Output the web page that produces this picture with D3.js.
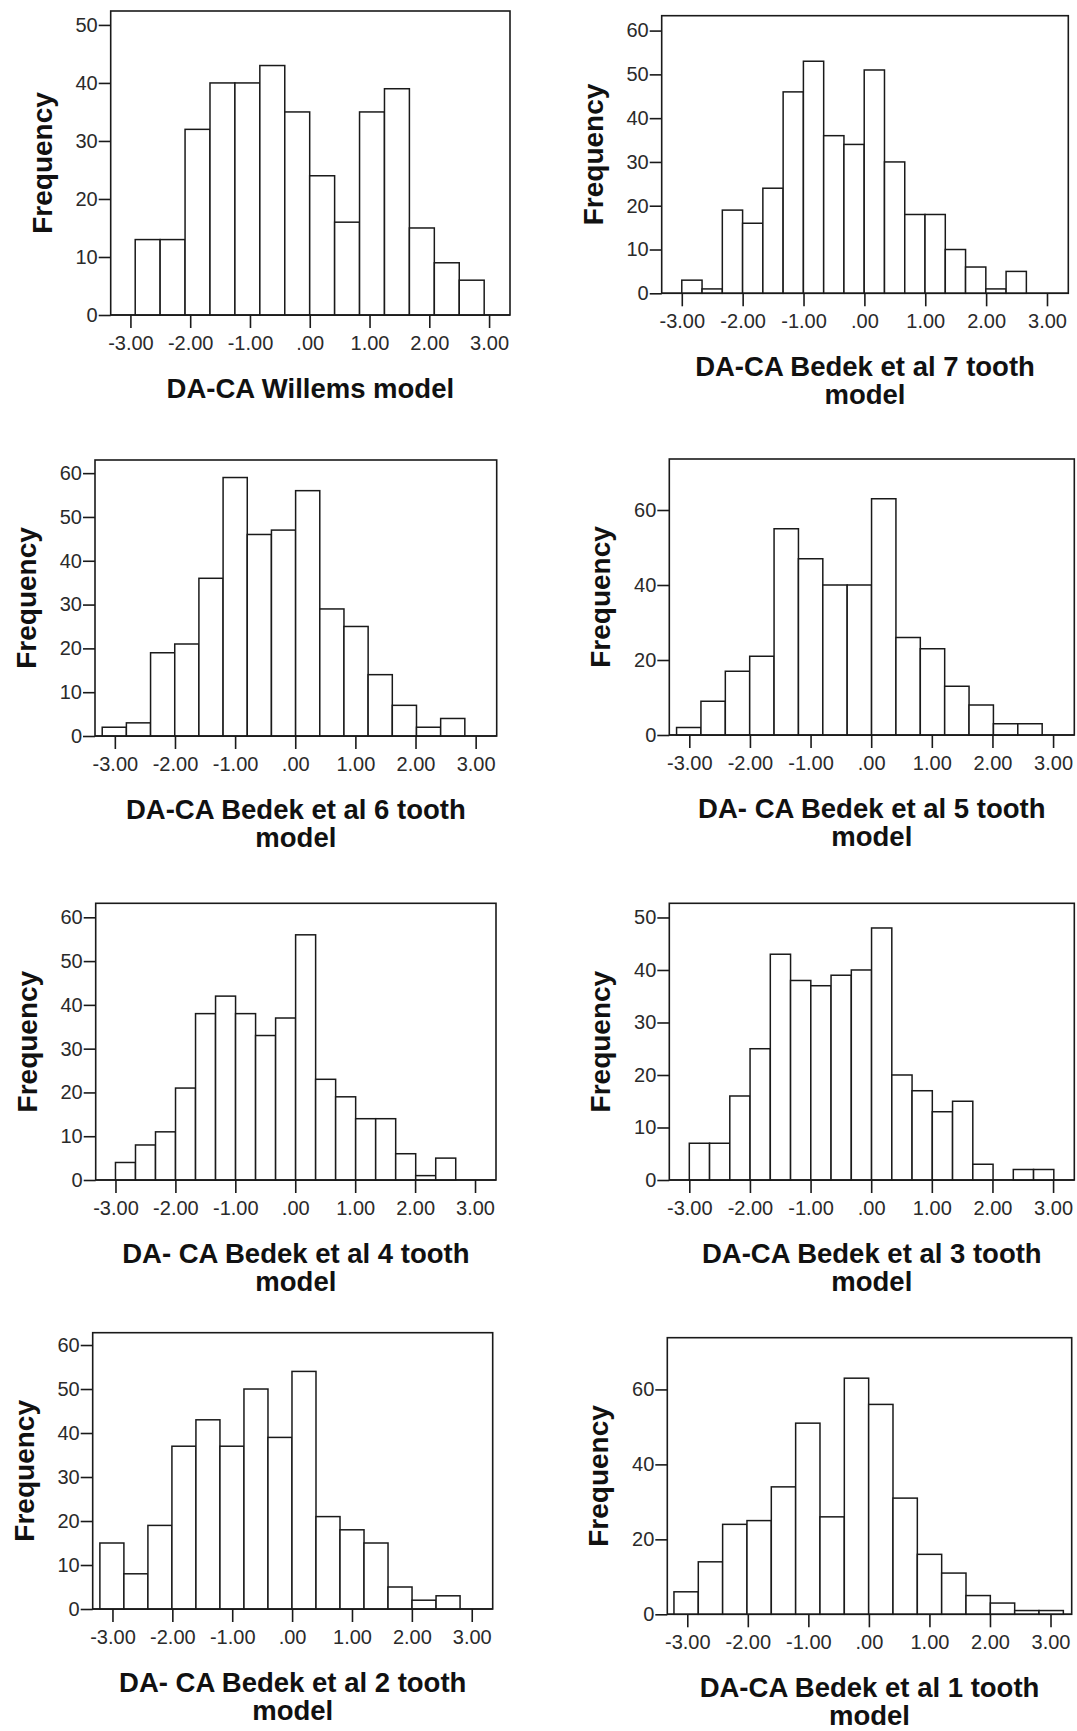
<!DOCTYPE html>
<html>
<head>
<meta charset="utf-8">
<script src="https://cdn.jsdelivr.net/npm/d3@7"></script>
<style>
  html, body { margin: 0; padding: 0; background: #fff; }
  svg { display: block; font-family: "Liberation Sans", Arial, sans-serif; }
</style>
</head>
<body>
<div id="chart"></div>
<script>
// Histogram counts per panel
const willemsCounts = [13, 13, 32, 40, 40, 43, 35, 24, 16, 35, 39, 15, 9, 6];
const bedek7Counts  = [3, 1, 19, 16, 24, 46, 53, 36, 34, 51, 30, 18, 18, 10, 6, 1, 5];
const bedek6Counts  = [2, 3, 19, 21, 36, 59, 46, 47, 56, 29, 25, 14, 7, 2, 4];
const bedek5Counts  = [2, 9, 17, 21, 55, 47, 40, 40, 63, 26, 23, 13, 8, 3, 3];
const bedek4Counts  = [4, 8, 11, 21, 38, 42, 38, 33, 37, 56, 23, 19, 14, 14, 6, 1, 5];
const bedek3Counts  = [7, 7, 16, 25, 43, 38, 37, 39, 40, 48, 20, 17, 13, 15, 3, 0, 2, 2];
const bedek2Counts  = [15, 8, 19, 37, 43, 37, 50, 39, 54, 21, 18, 15, 5, 2, 3];
const bedek1Counts  = [6, 14, 24, 25, 34, 51, 26, 63, 56, 31, 16, 11, 5, 3, 1, 1];

const binStarts = [-2.92, -3.0, -3.21, -3.21, -3.0, -3.0, -3.21, -3.22];
const binWidths = [0.417, 0.333, 0.402, 0.402, 0.334, 0.334, 0.401, 0.402];

const titles = [
    ["DA-CA Willems model"],
    ["DA-CA Bedek et al 7 tooth", "model"],
    ["DA-CA Bedek et al 6 tooth", "model"],
    ["DA- CA Bedek et al 5 tooth", "model"],
    ["DA- CA Bedek et al 4 tooth", "model"],
    ["DA-CA Bedek et al 3 tooth", "model"],
    ["DA- CA Bedek et al 2 tooth", "model"],
    ["DA-CA Bedek et al 1 tooth", "model"]
];

const yTicksBy10to50 = [0, 10, 20, 30, 40, 50];
const yTicksBy10to60 = [0, 10, 20, 30, 40, 50, 60];
const yTicksBy20 = [0, 20, 40, 60];
const yTickSets = [yTicksBy10to50, yTicksBy10to60, yTicksBy10to60, yTicksBy20,
                   yTicksBy10to60, yTicksBy10to50, yTicksBy10to60, yTicksBy20];
const yMaxes = [52.4, 63.4, 63, 73.6, 63.2, 52.7, 62.8, 73.8];

const xTicks = [-3, -2, -1, 0, 1, 2, 3];
const xTickLabels = ["-3.00", "-2.00", "-1.00", ".00", "1.00", "2.00", "3.00"];
const xDomain = [-3.33, 3.35];

const allCounts = [willemsCounts, bedek7Counts, bedek6Counts, bedek5Counts,
                   bedek4Counts, bedek3Counts, bedek2Counts, bedek1Counts];

// plot box of each panel: left, top, right, bottom (pixels)
const boxes = [
    [110.7, 11, 510, 315],
    [661.7, 15.7, 1068.3, 293.3],
    [95, 460, 496.7, 736],
    [669.3, 459, 1074.3, 735],
    [95.7, 903.3, 496, 1180],
    [669.3, 903.3, 1074.3, 1180],
    [92.7, 1332.7, 492.7, 1609],
    [667.3, 1337.7, 1071.7, 1614.3]
];

const width = 1077, height = 1731;
const svg = d3.select('#chart').append('svg')
    .attr('width', width)
    .attr('height', height);

allCounts.forEach((counts, p) => {
    const [left, top, right, bottom] = boxes[p];
    const x = d3.scaleLinear().domain(xDomain).range([left, right]);
    const y = d3.scaleLinear().domain([0, yMaxes[p]]).range([bottom, top]);
    const g = svg.append('g');

    const bins = counts.map((c, i) => ({
        x0: binStarts[p] + i * binWidths[p],
        x1: binStarts[p] + (i + 1) * binWidths[p],
        count: c
    }));

    // frame
    g.append('rect')
        .attr('x', left).attr('y', top)
        .attr('width', right - left).attr('height', bottom - top)
        .attr('fill', 'none')
        .attr('stroke', '#1a1a1a')
        .attr('stroke-width', 1.6);

    g.selectAll('rect.bar')
        .data(bins.filter(d => d.count > 0))
        .join('rect')
        .attr('class', 'bar')
        .attr('x', d => x(d.x0))
        .attr('y', d => y(d.count))
        .attr('width', d => x(d.x1) - x(d.x0))
        .attr('height', d => y(0) - y(d.count))
        .attr('fill', '#fff')
        .attr('stroke', '#1a1a1a')
        .attr('stroke-width', 1.5);

    // baseline redrawn on top of bars
    g.append('line')
        .attr('x1', left).attr('x2', right)
        .attr('y1', bottom).attr('y2', bottom)
        .attr('stroke', '#1a1a1a')
        .attr('stroke-width', 1.6);

    const yAxis = d3.axisLeft(y)
        .tickValues(yTickSets[p])
        .tickSize(12)
        .tickPadding(1)
        .tickFormat(d3.format('d'));

    g.append('g')
        .attr('transform', `translate(${left},0)`)
        .call(yAxis)
        .call(a => a.select('.domain').remove())
        .call(a => a.selectAll('line').attr('stroke', '#1a1a1a').attr('stroke-width', 1.6))
        .call(a => a.selectAll('text')
            .attr('fill', '#2a2a2a')
            .attr('font-size', '20px')
            .attr('font-family', '"Liberation Sans", Arial, sans-serif'));

    const xAxis = d3.axisBottom(x)
        .tickValues(xTicks)
        .tickSize(13)
        .tickPadding(8)
        .tickFormat((d, i) => xTickLabels[i]);

    g.append('g')
        .attr('transform', `translate(0,${bottom})`)
        .call(xAxis)
        .call(a => a.select('.domain').remove())
        .call(a => a.selectAll('line').attr('stroke', '#1a1a1a').attr('stroke-width', 1.6))
        .call(a => a.selectAll('text')
            .attr('fill', '#2a2a2a')
            .attr('font-size', '20px')
            .attr('font-family', '"Liberation Sans", Arial, sans-serif'));

    // y axis title
    g.append('text')
        .attr('transform', `translate(${left - 59},${(top + bottom) / 2}) rotate(-90)`)
        .attr('text-anchor', 'middle')
        .attr('font-size', '28px')
        .attr('font-weight', 'bold')
        .attr('fill', '#111')
        .text('Frequency');

    // x axis title, one or two lines
    g.selectAll('text.xtitle')
        .data(titles[p])
        .join('text')
        .attr('class', 'xtitle')
        .attr('x', (left + right) / 2)
        .attr('y', (d, i) => bottom + 83 + i * 28)
        .attr('text-anchor', 'middle')
        .attr('font-size', '27.5px')
        .attr('font-weight', 'bold')
        .attr('fill', '#111')
        .text(d => d);
});
</script>
</body>
</html>
